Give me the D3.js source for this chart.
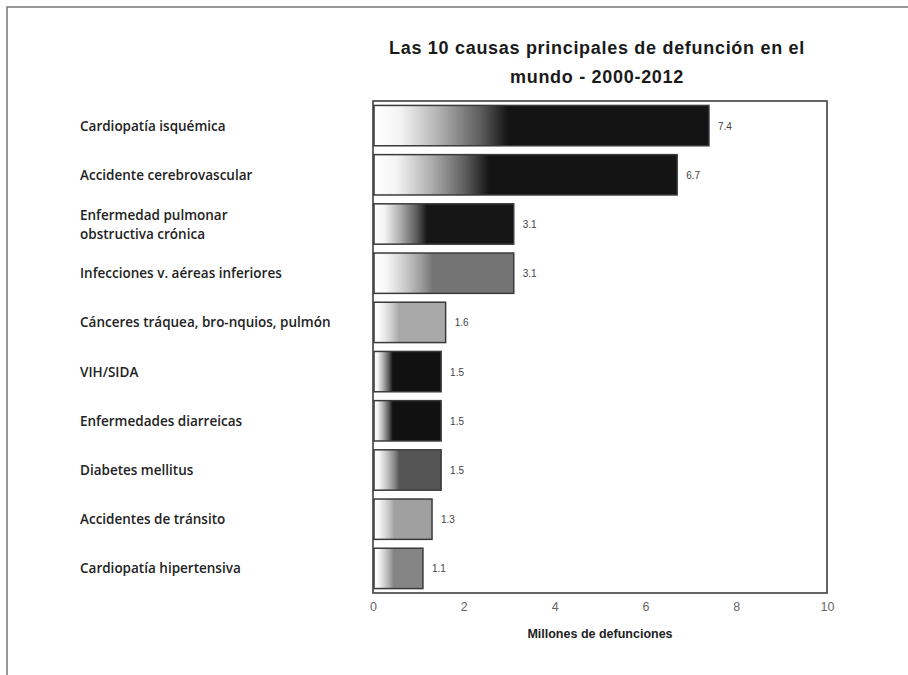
<!DOCTYPE html>
<html>
<head>
<meta charset="utf-8">
<script src="https://cdn.jsdelivr.net/npm/d3@7"></script>
<style>
  body { margin: 0; background: #fff; }
  svg { display: block; }
</style>
</head>
<body>
<svg id="chart" width="908" height="675"></svg>
<script>
// causes of death, top to bottom, with label lines
var causes = [
  "Cardiopatía isquémica",
  "Accidente cerebrovascular",
  "Enfermedad pulmonar obstructiva crónica",
  "Infecciones v. aéreas inferiores",
  "Cánceres tráquea, bronquios, pulmón",
  "VIH/SIDA",
  "Enfermedades diarreicas",
  "Diabetes mellitus",
  "Accidentes de tránsito",
  "Cardiopatía hipertensiva"
];
var causeLines = [
  ["Cardiopatía isquémica"],
  ["Accidente cerebrovascular"],
  ["Enfermedad pulmonar", "obstructiva crónica"],
  ["Infecciones v. aéreas inferiores"],
  ["Cánceres tráquea, bro-nquios, pulmón"],
  ["VIH/SIDA"],
  ["Enfermedades diarreicas"],
  ["Diabetes mellitus"],
  ["Accidentes de tránsito"],
  ["Cardiopatía hipertensiva"]
];
var deaths = [7.4, 6.7, 3.1, 3.1, 1.6, 1.5, 1.5, 1.5, 1.3, 1.1];
var xTicks = [0, 2, 4, 6, 8, 10];
var titleLines = ["Las 10 causas principales de defunción en el", "mundo - 2000-2012"];
var xTitle = "Millones de defunciones";

// end tone of each bar's gradient
var shades = ["#141414", "#141414", "#161616", "#747474", "#a8a8a8",
              "#111111", "#111111", "#555555", "#a0a0a0", "#858585"];
var darkStop = [0.4, 0.38, 0.38, 0.42, 0.35, 0.28, 0.28, 0.38, 0.35, 0.4];

var svg = d3.select("#chart");

// scanned page frame
svg.append("path")
  .attr("d", "M7,675 L7,7 L908,7")
  .attr("fill", "none")
  .attr("stroke", "#777")
  .attr("stroke-width", 1.5);

var margin = {left: 373, right: 81, top: 101, bottom: 82};
var W = 908 - margin.left - margin.right;
var H = 675 - margin.top - margin.bottom;

var x = d3.scaleLinear().domain([0, 10]).range([0, W]);
var y = d3.scaleBand().domain(causes).range([0, H]).paddingInner(0.18).paddingOuter(0.09);
var fill = d3.scaleOrdinal().domain(causes).range(shades);

var defs = svg.append("defs");
causes.forEach(function(c, i) {
  var end = fill(c);
  var gr = defs.append("linearGradient")
    .attr("id", "grad" + i)
    .attr("x1", "0%").attr("x2", "100%").attr("y1", "0%").attr("y2", "0%");
  var s = darkStop[i];
  var mix = d3.interpolateRgb("#ffffff", end);
  gr.append("stop").attr("offset", 0).attr("stop-color", "#ffffff");
  gr.append("stop").attr("offset", s * 0.2).attr("stop-color", mix(0.05));
  gr.append("stop").attr("offset", s * 0.5).attr("stop-color", mix(0.35));
  gr.append("stop").attr("offset", s * 0.8).attr("stop-color", mix(0.7));
  gr.append("stop").attr("offset", s).attr("stop-color", end);
  gr.append("stop").attr("offset", 1).attr("stop-color", end);
});

var g = svg.append("g").attr("transform", "translate(" + margin.left + "," + margin.top + ")");

// plot box
g.append("rect")
  .attr("x", 0).attr("y", 0).attr("width", W).attr("height", H)
  .attr("fill", "none").attr("stroke", "#333").attr("stroke-width", 1.5);

g.selectAll("rect.bar")
  .data(deaths)
  .join("rect")
  .classed("bar", true)
  .attr("x", 1)
  .attr("y", (d, i) => y(causes[i]))
  .attr("width", d => x(d) - 1)
  .attr("height", y.bandwidth())
  .attr("fill", (d, i) => "url(#grad" + i + ")")
  .attr("stroke", "#3a3a3a")
  .attr("stroke-width", 1.5);

g.selectAll("text.val")
  .data(deaths)
  .join("text")
  .classed("val", true)
  .attr("x", d => x(d) + 9)
  .attr("y", (d, i) => y(causes[i]) + y.bandwidth() / 2 + 4)
  .attr("font-family", "Liberation Sans, Arial, sans-serif")
  .attr("font-size", 10)
  .attr("fill", "#444")
  .text(d => d.toFixed(1));

// x axis
var xAxis = g.append("g")
  .attr("transform", "translate(0," + H + ")")
  .call(d3.axisBottom(x).tickValues(xTicks).tickSize(0).tickPadding(9).tickFormat(d3.format("d")));
xAxis.select(".domain").remove();
xAxis.selectAll("text")
  .attr("font-family", "Liberation Sans, Arial, sans-serif")
  .attr("font-size", 12.5)
  .attr("fill", "#666");

g.append("text")
  .attr("x", W / 2)
  .attr("y", H + 45)
  .attr("text-anchor", "middle")
  .attr("font-family", "Liberation Sans, Arial, sans-serif")
  .attr("font-weight", "bold")
  .attr("font-size", 12.5)
  .attr("fill", "#222")
  .text(xTitle);

// category labels
var labels = svg.append("g").attr("transform", "translate(80," + margin.top + ")");
labels.selectAll("text")
  .data(causeLines)
  .join("text")
  .attr("font-family", "Open Sans, sans-serif")
  .attr("font-weight", 600)
  .attr("font-size", 13.5)
  .attr("fill", "#222")
  .each(function(lines, i) {
    var cy = y(causes[i]) + y.bandwidth() / 2;
    var t0 = cy - (lines.length - 1) * 9 + 5;
    d3.select(this).selectAll("tspan")
      .data(lines)
      .join("tspan")
      .attr("x", 0)
      .attr("y", (l, j) => t0 + j * 19)
      .text(l => l);
  });

// title
svg.append("g").selectAll("text")
  .data(titleLines)
  .join("text")
  .attr("x", 597)
  .attr("y", (d, i) => 54 + i * 29)
  .attr("text-anchor", "middle")
  .attr("font-family", "Liberation Sans, Arial, sans-serif")
  .attr("font-weight", "bold")
  .attr("font-size", 18)
  .attr("letter-spacing", 0.7)
  .attr("fill", "#1a1a1a")
  .text(d => d);
</script>
</body>
</html>
